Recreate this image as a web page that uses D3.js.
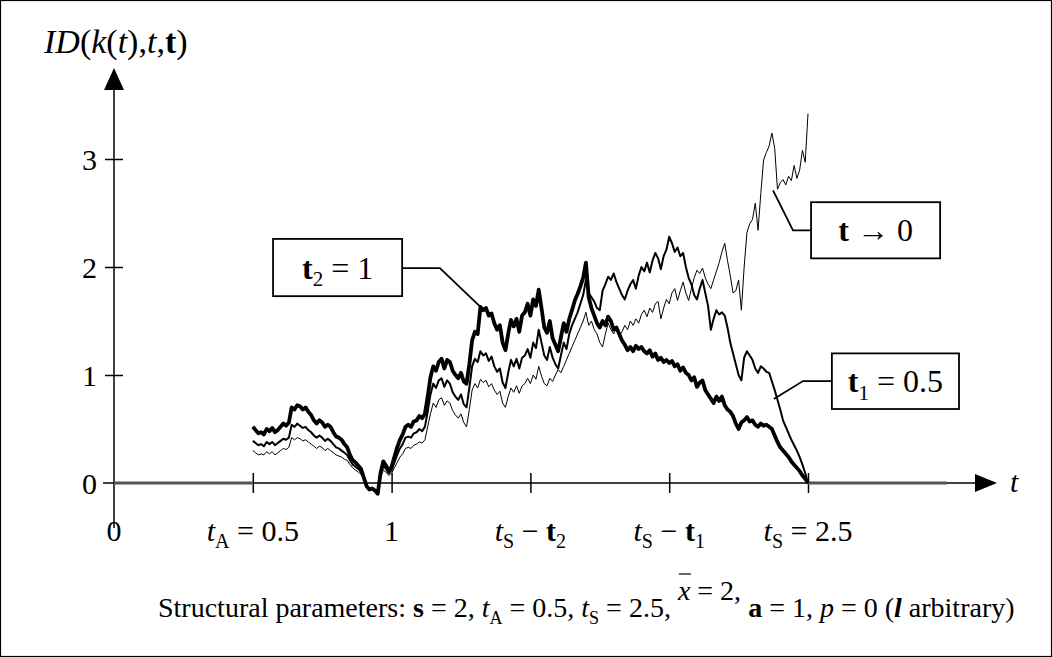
<!DOCTYPE html>
<html>
<head>
<meta charset="utf-8">
<script src="https://cdn.jsdelivr.net/npm/d3@7"></script>
<style>
body{margin:0;background:#fff}
text{font-family:"Liberation Serif","Times New Roman",serif;fill:#000}
</style>
</head>
<body>
<svg id="chart" width="1052" height="657"></svg>
<script>
// sample grid: t from 0.5 to 2.5 in steps of 0.01
var tFirst = 0.5, tStep = 0.01;

// tau2 = 1 (thick)
var tau2Values = [
0.52,0.49,0.46,0.47,0.45,0.50,0.48,0.51,0.47,0.49,
0.52,0.55,0.53,0.56,0.70,0.68,0.72,0.71,0.68,0.70,
0.66,0.63,0.58,0.55,0.58,0.56,0.52,0.54,0.52,0.47,
0.43,0.42,0.40,0.36,0.33,0.26,0.21,0.19,0.16,0.13,
0.05,-0.03,-0.06,-0.05,-0.07,-0.10,0.09,0.20,0.16,0.11,
0.15,0.24,0.33,0.40,0.45,0.52,0.54,0.52,0.57,0.58,
0.62,0.60,0.64,0.80,0.98,1.08,1.04,1.12,1.15,1.06,
1.14,1.12,1.04,1.00,0.97,1.02,0.94,0.92,1.10,1.32,
1.40,1.38,1.63,1.60,1.62,1.55,1.57,1.48,1.42,1.46,
1.30,1.23,1.38,1.51,1.45,1.52,1.40,1.55,1.58,1.66,
1.55,1.70,1.64,1.79,1.62,1.44,1.39,1.50,1.34,1.28,
1.22,1.35,1.48,1.40,1.52,1.60,1.69,1.75,1.82,1.90,
2.04,1.72,1.62,1.55,1.48,1.44,1.50,1.46,1.54,1.50,
1.42,1.44,1.38,1.32,1.28,1.23,1.26,1.22,1.27,1.24,
1.26,1.22,1.20,1.23,1.17,1.20,1.14,1.16,1.12,1.14,
1.11,1.13,1.08,1.10,1.04,1.07,1.02,1.00,0.95,0.98,
0.89,0.93,0.95,0.86,0.82,0.78,0.74,0.80,0.76,0.80,
0.72,0.68,0.66,0.62,0.55,0.50,0.56,0.58,0.61,0.57,
0.58,0.54,0.52,0.55,0.53,0.54,0.52,0.50,0.44,0.38,
0.33,0.30,0.27,0.24,0.20,0.17,0.14,0.11,0.07,0.04,
0.00];

// tau1 = 0.5 (medium)
var tau1Values = [
0.39,0.37,0.35,0.36,0.34,0.38,0.36,0.38,0.35,0.37,
0.39,0.41,0.40,0.42,0.54,0.52,0.55,0.53,0.51,0.52,
0.49,0.47,0.44,0.42,0.44,0.42,0.39,0.41,0.39,0.36,
0.33,0.32,0.30,0.28,0.26,0.21,0.17,0.15,0.13,0.10,
0.04,-0.03,-0.06,-0.05,-0.07,-0.09,0.07,0.16,0.13,0.09,
0.12,0.19,0.26,0.32,0.36,0.42,0.43,0.42,0.46,0.47,
0.50,0.48,0.52,0.66,0.82,0.92,0.88,0.95,0.97,0.89,
0.95,0.92,0.84,0.80,0.77,0.82,0.73,0.70,0.88,1.08,
1.15,1.12,1.22,1.18,1.20,1.13,1.17,1.08,1.03,1.06,
0.93,0.88,1.02,1.14,1.08,1.15,1.06,1.16,1.18,1.24,
1.16,1.30,1.25,1.42,1.30,1.18,1.14,1.26,1.16,1.10,
1.06,1.18,1.30,1.24,1.38,1.46,1.52,1.58,1.66,1.74,
1.88,1.76,1.72,1.68,1.62,1.60,1.78,1.84,1.91,1.88,
1.94,1.86,1.80,1.74,1.70,1.78,1.84,1.88,1.80,1.92,
2.00,1.96,2.04,1.95,2.06,2.13,2.08,1.98,2.10,2.16,
2.28,2.22,2.14,2.18,2.10,2.13,2.00,1.90,1.84,1.74,
1.70,1.80,1.88,1.76,1.64,1.42,1.52,1.60,1.56,1.58,
1.55,1.44,1.30,1.20,1.10,1.00,0.95,1.16,1.22,1.18,
1.14,1.06,1.02,1.08,1.06,1.03,1.02,0.94,0.86,0.77,
0.68,0.58,0.52,0.46,0.40,0.35,0.30,0.24,0.17,0.09,
0.00];

// tau -> 0 (thin)
var tau0Values = [
0.30,0.28,0.26,0.27,0.26,0.29,0.27,0.29,0.26,0.28,
0.30,0.32,0.31,0.33,0.42,0.40,0.42,0.41,0.39,0.40,
0.38,0.36,0.34,0.32,0.34,0.33,0.30,0.32,0.30,0.28,
0.26,0.25,0.24,0.22,0.21,0.17,0.14,0.12,0.10,0.08,
0.03,-0.03,-0.06,-0.05,-0.07,-0.08,0.05,0.12,0.10,0.07,
0.09,0.14,0.19,0.24,0.27,0.32,0.33,0.32,0.35,0.36,
0.38,0.37,0.40,0.52,0.64,0.74,0.70,0.77,0.79,0.72,
0.76,0.74,0.67,0.63,0.60,0.64,0.56,0.52,0.68,0.86,
0.92,0.88,0.96,0.93,0.95,0.89,0.92,0.86,0.82,0.85,
0.74,0.70,0.80,0.88,0.84,0.90,0.83,0.90,0.92,0.97,
0.92,1.00,0.96,1.08,0.99,0.92,0.90,0.97,0.94,1.00,
1.05,1.02,1.08,1.14,1.20,1.26,1.32,1.38,1.44,1.50,
1.58,1.46,1.50,1.42,1.38,1.30,1.26,1.38,1.48,1.42,
1.38,1.44,1.36,1.40,1.46,1.42,1.50,1.46,1.52,1.48,
1.56,1.60,1.54,1.62,1.58,1.66,1.68,1.52,1.62,1.70,
1.66,1.76,1.80,1.69,1.78,1.86,1.76,1.69,1.80,1.90,
1.97,1.94,1.99,1.90,1.84,1.80,1.88,1.96,2.04,2.14,
2.22,2.06,1.92,1.76,1.78,1.88,1.60,2.00,2.32,2.40,
2.44,2.59,2.34,2.68,2.99,3.06,3.12,3.24,3.10,2.72,
2.78,2.81,2.76,2.84,2.80,2.94,2.82,2.90,3.08,2.97,
3.42];

// zero stretches before t_A and after t_S
var zeroBefore = [0, 0.5];
var zeroAfter = [2.5, 3.0];

var xTickValues = [0.5, 1, 1.5, 2, 2.5];
var yTickValues = [0, 1, 2, 3];
var yTickLabels = ["0", "1", "2", "3"];

// x tick labels as rich text parts [text, style]; style: i=italic, b=bold, _=subscript
var xTickLabels = [
  {t: 0,   parts: [["0"]]},
  {t: 0.5, parts: [["t","i"],["A","_"],[" = 0.5"]]},
  {t: 1,   parts: [["1"]]},
  {t: 1.5, parts: [["t","i"],["S","_"],[" \u2212 "],["t","b"],["2","_"]]},
  {t: 2,   parts: [["t","i"],["S","_"],[" \u2212 "],["t","b"],["1","_"]]},
  {t: 2.5, parts: [["t","i"],["S","_"],[" = 2.5"]]}
];

var svg = d3.select("#chart");
var x = d3.scaleLinear().domain([0, 2.5]).range([114, 808]);
var y = d3.scaleLinear().domain([0, 3]).range([483, 159]);

svg.append("rect").attr("x",0.5).attr("y",0.5).attr("width",1051).attr("height",656)
  .attr("fill","none").attr("stroke","#000").attr("stroke-width",1.2);

function rich(textSel, parts, size){
  var off = 0;
  parts.forEach(function(p){
    var st = p[1] || "";
    var want = p[2] !== undefined ? p[2] : (st.indexOf("_") >= 0 ? size*0.24 : 0);
    var ts = textSel.append("tspan").text(p[0]);
    if(want != off) ts.attr("dy", want - off);
    off = want;
    if(st.indexOf("i") >= 0) ts.style("font-style","italic");
    if(st.indexOf("b") >= 0) ts.style("font-weight","bold");
    if(st.indexOf("_") >= 0) ts.attr("font-size", Math.round(size*0.66));
    if(p[3]) ts.attr("id", p[3]);
  });
}

// axes
var axisY = y(0);
svg.append("line").attr("x1",103).attr("x2",978).attr("y1",axisY).attr("y2",axisY)
  .attr("stroke","#000").attr("stroke-width",1.5);
svg.append("path").attr("d","M975," + (axisY-9) + "L997," + axisY + "L975," + (axisY+9) + "Z");
svg.append("line").attr("x1",x(0)).attr("x2",x(0)).attr("y1",528).attr("y2",88)
  .attr("stroke","#000").attr("stroke-width",1.5);
svg.append("path").attr("d","M" + (x(0)-10) + ",90L" + x(0) + ",68L" + (x(0)+10) + ",90Z");

var gx = svg.append("g").attr("transform","translate(0," + (axisY-10) + ")")
  .call(d3.axisBottom(x).tickValues(xTickValues).tickSize(20).tickFormat(""));
gx.select(".domain").remove();
gx.selectAll(".tick line").attr("stroke","#000").attr("stroke-width",1.5);

var gy = svg.append("g").attr("transform","translate(" + (x(0)+9) + ",0)")
  .call(d3.axisLeft(y).tickValues(yTickValues.slice(1)).tickSize(18).tickFormat(""));
gy.select(".domain").remove();
gy.selectAll(".tick line").attr("stroke","#000").attr("stroke-width",1.5);

yTickValues.forEach(function(v, i){
  svg.append("text").attr("x",97).attr("y",y(v)).attr("dy","0.35em")
    .attr("text-anchor","end").attr("font-size",30).text(yTickLabels[i]);
});

xTickLabels.forEach(function(d){
  var tx = svg.append("text").attr("x",x(d.t)).attr("y",541)
    .attr("text-anchor","middle").attr("font-size",30);
  rich(tx, d.parts, 30);
});

svg.append("text").attr("x",1010).attr("y",492).attr("font-size",30)
  .style("font-style","italic").text("t");

var yl = svg.append("text").attr("x",44).attr("y",53).attr("font-size",34);
rich(yl, [["ID","i"],["("],["k","i"],["("],["t","i"],["),"],["t","i"],[","],["t","b"],[")"]], 34);

// zero stretches
[zeroBefore, zeroAfter].forEach(function(z){
  svg.append("line").attr("x1",x(z[0])).attr("x2",x(z[1])).attr("y1",y(0)).attr("y2",y(0))
    .attr("stroke","#555").attr("stroke-width",3);
});

// series
var tGrid = tau2Values.map(function(_, i){ return +(tFirst + i*tStep).toFixed(2); });
var line = d3.line().x(function(d){ return x(d[0]); }).y(function(d){ return y(d[1]); });
var series = [
  {values: tau0Values, width: 1},
  {values: tau1Values, width: 2},
  {values: tau2Values, width: 3.8}
];
series.forEach(function(s){
  svg.append("path").datum(s.values.map(function(v, i){ return [tGrid[i], v]; }))
    .attr("d", line).attr("fill","none").attr("stroke","#000")
    .attr("stroke-width", s.width).attr("stroke-linejoin","round");
});

// label boxes with leaders (data units)
var boxes = [
  {x0:0.573, x1:1.038, yTop:2.26, yBot:1.73, parts:[["t","b"],["2","_"],[" = 1"]],
   leader:[[1.038,1.99],[1.174,1.99],[1.32,1.63]]},
  {x0:2.511, x1:2.976, yTop:2.60, yBot:2.08, parts:[["t","b"],[" \u2192 0"]],
   leader:[[2.511,2.34],[2.446,2.34],[2.374,2.71]]},
  {x0:2.586, x1:3.044, yTop:1.20, yBot:0.685, parts:[["t","b"],["1","_"],[" = 0.5"]],
   leader:[[2.586,0.944],[2.482,0.944],[2.377,0.778]]}
];
boxes.forEach(function(b){
  svg.append("path").datum(b.leader).attr("d", line).attr("fill","none")
    .attr("stroke","#000").attr("stroke-width",1.8);
  svg.append("rect").attr("x",x(b.x0)).attr("y",y(b.yTop))
    .attr("width",x(b.x1)-x(b.x0)).attr("height",y(b.yBot)-y(b.yTop))
    .attr("fill","#fff").attr("stroke","#000").attr("stroke-width",1.8);
  var tt = svg.append("text").attr("x",(x(b.x0)+x(b.x1))/2)
    .attr("y",(y(b.yTop)+y(b.yBot))/2 + 11).attr("text-anchor","middle").attr("font-size",32);
  rich(tt, b.parts, 32);
});

// structural parameters line
var note = svg.append("text").attr("x",158).attr("y",617).attr("font-size",28);
rich(note, [
  ["Structural parameters: "],["s","b"],[" = 2, "],["t","i"],["A","_"],[" = 0.5, "],
  ["t","i"],["S","_"],[" = 2.5, "],
  ["x","i",-17,"xbar"],[" = 2, ","",-17],
  ["a","b"],[" = 1, "],["p","i"],[" = 0 ("],["l","bi"],[" arbitrary)"]
], 28);
var xb = document.getElementById("xbar").getBBox();
svg.append("line").attr("x1",xb.x+2).attr("x2",xb.x+xb.width).attr("y1",xb.y-1).attr("y2",xb.y-1)
  .attr("stroke","#000").attr("stroke-width",1.2);
</script>
</body>
</html>
